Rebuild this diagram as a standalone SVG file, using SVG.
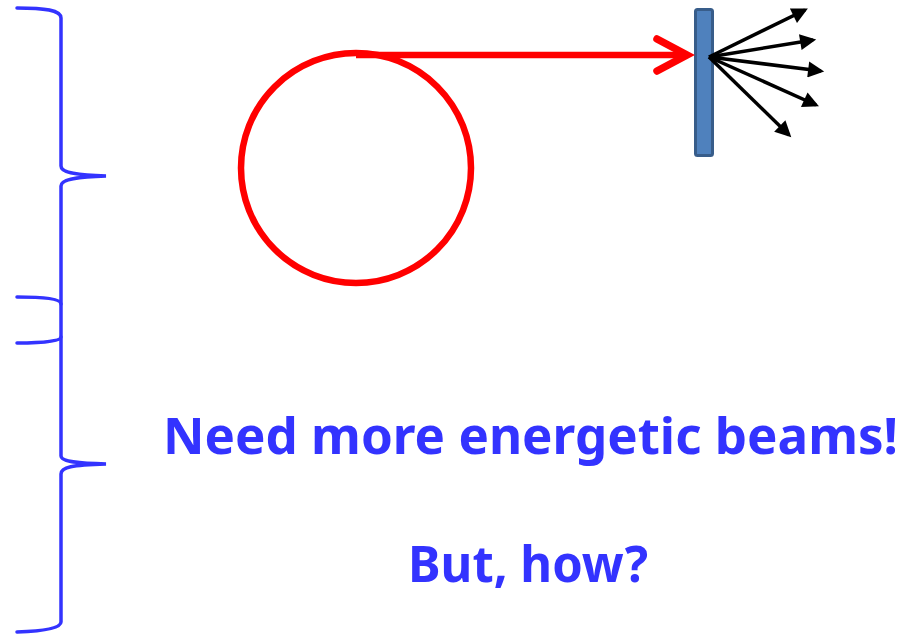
<svg xmlns="http://www.w3.org/2000/svg" width="912" height="635" viewBox="0 0 912 635">
<style>
.brace{fill:none;stroke:#3333FF;stroke-width:3.5;stroke-linecap:round}
.red{fill:none;stroke:#FF0000;stroke-width:6.5}
.ray{stroke:#000;stroke-width:3.5}
.t{font-family:"Noto Sans","Open Sans",sans-serif;font-weight:bold;fill:#3333FF}
</style>
<defs>
<marker id="ah" viewBox="0 0 10 10" refX="8" refY="5" markerWidth="5" markerHeight="4.6" markerUnits="strokeWidth" orient="auto">
<path d="M0,0 L10,5 L0,10 Z" fill="#000"/>
</marker>
</defs>
<g id="braces">
<path class="brace" d="M17,8 C45,8 61,10 61,18 L61,166 C61,172 72,175 106,176 C72,177 61,180 61,186 L61,456 C61,461 72,463 106,464 C72,465 61,467 61,474 L61,622 C61,628 45,631 17,632"/>
<path class="brace" d="M17,297 C45,297 61,299 61,304"/>
<path class="brace" d="M61,337 C61,341 45,343 17,343"/>
</g>
<g id="ring">
<circle class="red" cx="356" cy="168" r="115"/>
</g>
<g id="target">
<rect x="695.5" y="9.5" width="17" height="146" rx="2" fill="#4F81BD" stroke="#385D8A" stroke-width="3"/>
</g>
<g id="connectors">
<path class="red" d="M356,55 L684,55"/>
<path d="M657,39 L687,55 L657,71" fill="none" stroke="#FF0000" stroke-width="7.5" stroke-linecap="round" stroke-linejoin="miter"/>
<line class="ray" x1="709" y1="57" x2="805" y2="10" marker-end="url(#ah)"/>
<line class="ray" x1="709" y1="57" x2="813" y2="40" marker-end="url(#ah)"/>
<line class="ray" x1="709" y1="57" x2="821" y2="71" marker-end="url(#ah)"/>
<line class="ray" x1="709" y1="57" x2="816" y2="105" marker-end="url(#ah)"/>
<line class="ray" x1="709" y1="57" x2="789" y2="135" marker-end="url(#ah)"/>
</g>
<g id="text">
<text class="t" x="163" y="454" font-size="51" textLength="735" lengthAdjust="spacingAndGlyphs">Need more energetic beams!</text>
<text class="t" x="408" y="582" font-size="51" textLength="240" lengthAdjust="spacingAndGlyphs">But, how?</text>
</g>
</svg>
